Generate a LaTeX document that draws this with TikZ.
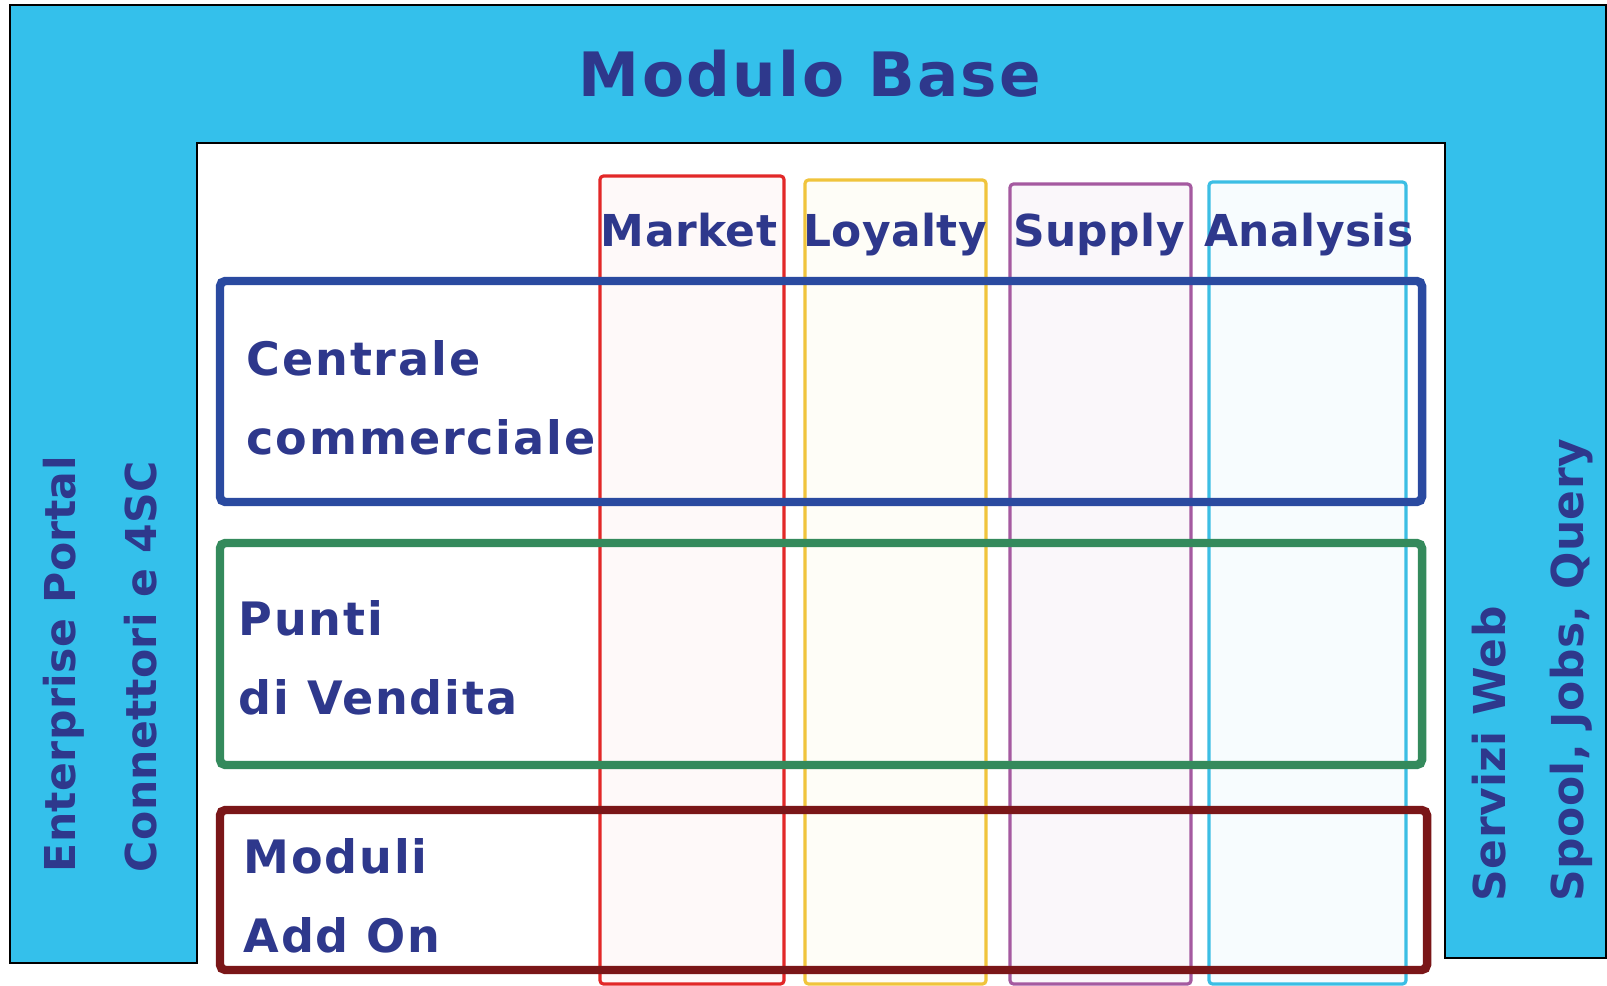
\documentclass[tikz,border=0pt]{standalone}
\usepackage{fontspec}
\setmainfont{DejaVu Sans}
\newfontfamily\spacedfont[LetterSpace=4]{DejaVu Sans}
\newfontfamily\tightfont[LetterSpace=1]{DejaVu Sans}
\usetikzlibrary{positioning}
\definecolor{baseblue}{RGB}{52,192,235}
\definecolor{ink}{RGB}{46,56,140}
\definecolor{rowblue}{RGB}{42,74,160}
\definecolor{rowgreen}{RGB}{52,138,92}
\definecolor{rowred}{RGB}{122,22,24}
\definecolor{colred}{RGB}{226,40,40}
\definecolor{colyellow}{RGB}{240,196,60}
\definecolor{colpurple}{RGB}{165,90,160}
\definecolor{colcyan}{RGB}{60,190,228}
\tikzset{
  title/.style={text=ink, inner sep=0pt, font=\spacedfont\bfseries\fontsize{17.4}{20}\selectfont},
  lbl/.style={text=ink, inner sep=0pt, font=\spacedfont\bfseries\fontsize{13.1}{22.5}\selectfont},
  collbl/.style={text=ink, inner sep=0pt, anchor=base, font=\tightfont\bfseries\fontsize{12.5}{15}\selectfont},
  sidelbl/.style={text=ink, inner sep=0pt, rotate=90, anchor=base west, font=\tightfont\bfseries\fontsize{12.5}{15}\selectfont},
  leftlbl/.style={sidelbl, font=\tightfont\bfseries\fontsize{12.1}{15}\selectfont},
  rowbox/.style={line width=2.4pt, rounded corners=1.5pt},
  colbox/.style={line width=0.9pt, rounded corners=1pt}
}
\begin{document}
\begin{tikzpicture}[x=0.01cm, y=-0.01cm]
   \useasboundingbox (0,0) rectangle (1607,986);
   \fill[white] (0,0) rectangle (1607,986);
   \draw[fill=baseblue, line width=0.8pt] (10,5) -- (1606,5) -- (1606,958) -- (1445,958)
      -- (1445,143) -- (197,143) -- (197,963) -- (10,963) -- cycle;
   % columns
   \draw[colbox, colred, fill=colred!3] (600,176) rectangle (784,984);
   \draw[colbox, colyellow, fill=colyellow!4] (805,180) rectangle (986,984);
   \draw[colbox, colpurple, fill=colpurple!5] (1010,184) rectangle (1191,984);
   \draw[colbox, colcyan, fill=colcyan!4] (1209,182) rectangle (1406,984);
   % rows
   \draw[rowbox, rowblue] (220,281) rectangle (1422,502);
   \draw[rowbox, rowgreen] (220,543) rectangle (1422,765);
   \draw[rowbox, rowred] (220,810) rectangle (1427,970);
   % labels
   \node[title] (modulo) at (810,74) {Modulo Base};
   \node[collbl] (market) at (689,247) {Market};
   \node[collbl] (loyalty) at (895,247) {Loyalty};
   \node[collbl] (supply) at (1099,247) {Supply};
   \node[collbl] (analysis) at (1309,247) {Analysis};
   \node[lbl, anchor=north west, align=left] (centrale) at (246,340) {Centrale\\commerciale};
   \node[lbl, anchor=north west, align=left] (punti) at (238,600) {Punti\\di Vendita};
   \node[lbl, anchor=north west, align=left] (moduli) at (243,838) {Moduli\\Add On};
   \node[leftlbl] (portal) at (75,873) {Enterprise Portal};
   \node[leftlbl] (connettori) at (156,873) {Connettori e 4SC};
   \node[sidelbl] (servizi) at (1505,902) {Servizi Web};
   \node[sidelbl] (spool) at (1583,902) {Spool, Jobs, Query};
\end{tikzpicture}
\end{document}
